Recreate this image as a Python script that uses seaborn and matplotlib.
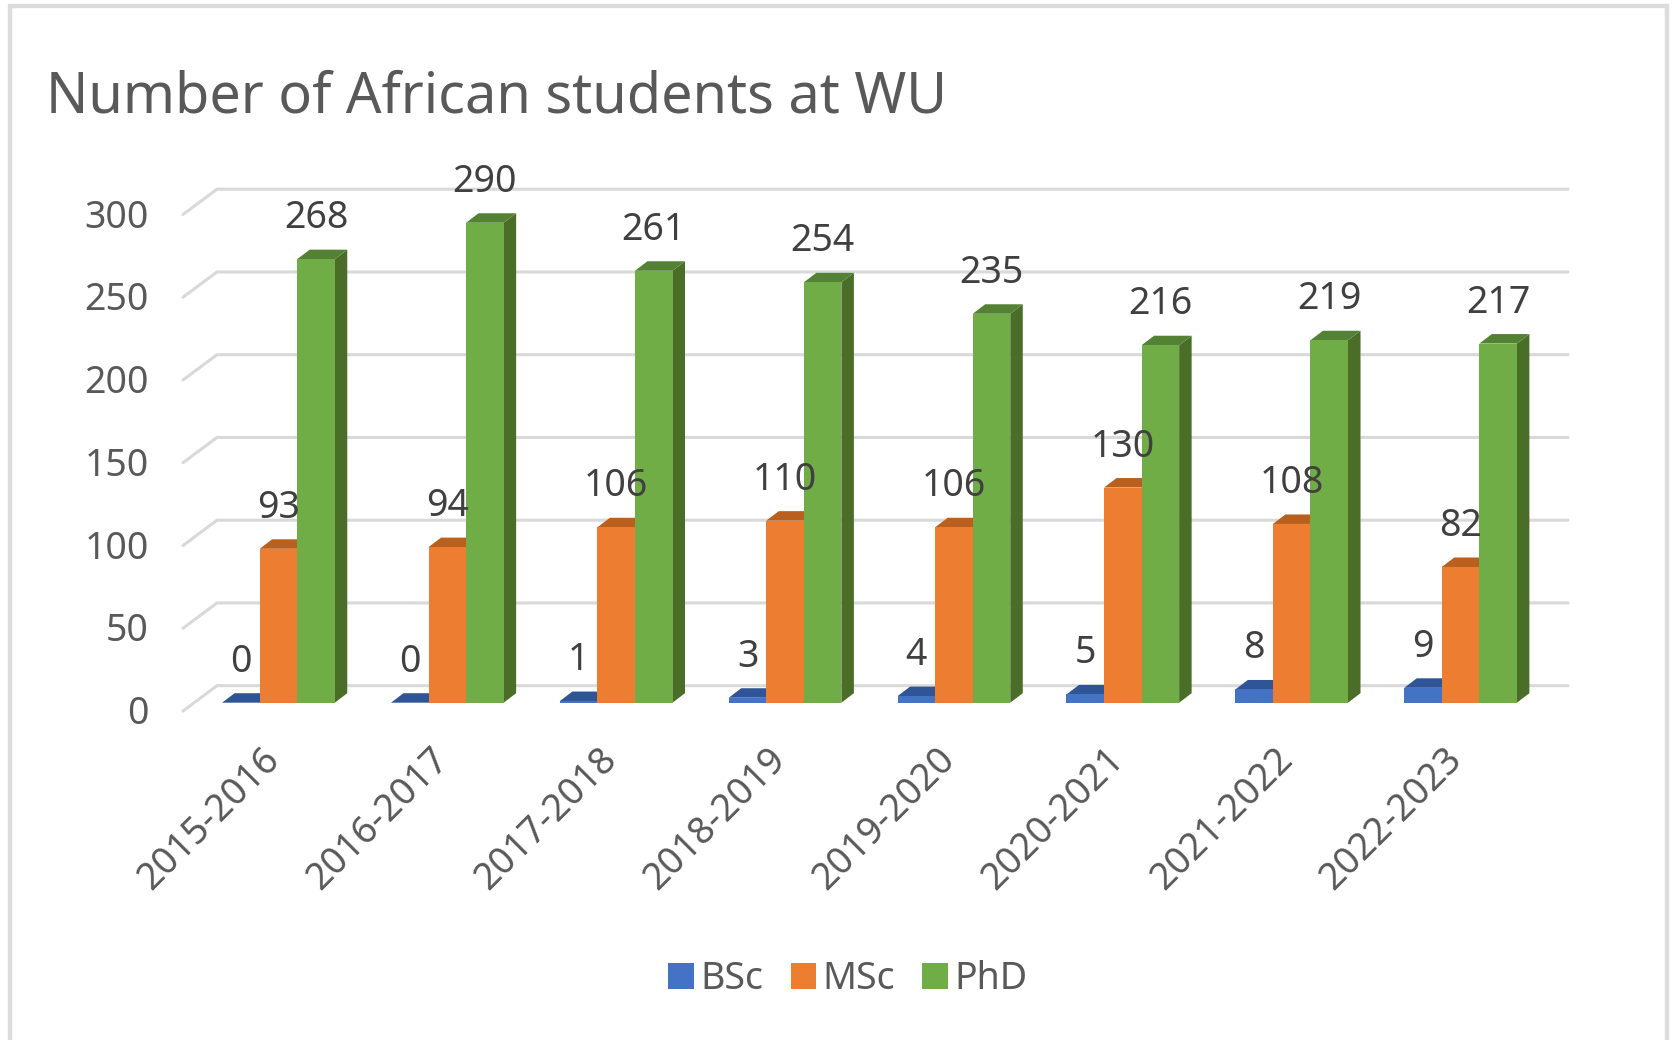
import pandas as pd
import matplotlib
matplotlib.use("Agg")
import matplotlib.pyplot as plt
import seaborn as sns
from matplotlib.patches import Polygon, Rectangle
from matplotlib.transforms import ScaledTranslation

# --------------------------- DATA ---------------------------
years = ['2015-2016', '2016-2017', '2017-2018', '2018-2019',
         '2019-2020', '2020-2021', '2021-2022', '2022-2023']
bsc = [0, 0, 1, 3, 4, 5, 8, 9]
msc = [93, 94, 106, 110, 106, 130, 108, 82]
phd = [268, 290, 261, 254, 235, 216, 219, 217]
levels = ['BSc', 'MSc', 'PhD']
y_ticks = [0, 50, 100, 150, 200, 250, 300]

# --------------------------- COLORS ---------------------------
front_colors = {'BSc': '#4472c4', 'MSc': '#ed7d31', 'PhD': '#70ad47'}
top_colors = {'BSc': '#2f5597', 'MSc': '#b9601f', 'PhD': '#548235'}
side_colors = {'BSc': '#2a4d8a', 'MSc': '#a85519', 'PhD': '#4a6e28'}
text_color = '#595959'
grid_color = '#d9d9d9'

# --------------------------- SETTINGS ---------------------------
W, H = 1673, 1040
sns.set_theme(style="white")
plt.rcParams['font.family'] = ['Noto Sans', 'DejaVu Sans']

df = pd.DataFrame({
    'year': years * 3,
    'level': [l for l in levels for _ in years],
    'count': bsc + msc + phd,
})

fig = plt.figure(figsize=(W / 100, H / 100), dpi=100)
fig.patches.append(Rectangle((10 / W, -0.02), 1657 / W, 1 - 6 / H + 0.02, transform=fig.transFigure,
                             fill=False, edgecolor='#dcdcdc', linewidth=3.2))

# axes box in pixels: the front plane of the bars
left, right, y0, y300 = 194, 1545, 702.7, 206.2
ax = fig.add_axes([left / W, 1 - y0 / H, (right - left) / W, (y0 - y300) / H])

sns.barplot(data=df, x='year', y='count', hue='level', hue_order=levels, palette=front_colors,
            width=0.667, gap=0, saturation=1, linewidth=0, ax=ax, zorder=3)
ax.set_xlim(-0.5, 7.5)
ax.set_ylim(0, 300)
sns.despine(ax=ax, left=True, bottom=True)
ax.patch.set_alpha(0)
ax.set_xlabel('')
ax.set_ylabel('')

# pixel sizes to data units
px_x = 8 / (right - left)
px_y = 300 / (y0 - y300)

# --------------------- WALL GRID ---------------------
for v in y_ticks:
    ax.plot([-0.5 - 11 * px_x, -0.5 + 23 * px_x, 7.5 + 23 * px_x],
            [v - 8.3 * px_y, v + 17 * px_y, v + 17 * px_y],
            color=grid_color, lw=2.2, clip_on=False, zorder=1, solid_joinstyle='miter')

# --------------------- 3D FACES AND LABELS ---------------------
dx, dy = 12.5 * px_x, 9.5 * px_y
z = 3
for level, container, values in zip(levels, ax.containers, [bsc, msc, phd]):
    for bar, value in zip(container, values):
        x1, x2 = bar.get_x(), bar.get_x() + bar.get_width()
        h = bar.get_height()
        ax.add_patch(Polygon([(x2, 0), (x2 + dx, dy), (x2 + dx, h + dy), (x2, h)],
                             facecolor=side_colors[level], edgecolor='none', clip_on=False, zorder=z))
        ax.add_patch(Polygon([(x1, h), (x1 + dx, h + dy), (x2 + dx, h + dy), (x2, h)],
                             facecolor=top_colors[level], edgecolor='none', clip_on=False, zorder=z))
        bar.set_zorder(z + 0.5)
        bar.set_clip_on(False)
        ax.annotate(str(value), (x1 + bar.get_width() / 2, h), xytext=(0, 41 * 0.72),
                    textcoords='offset points', ha='center', va='center',
                    fontsize=27, color='#404040', zorder=20, annotation_clip=False)
    z += 1

# --------------------- TICKS ---------------------
ax.set_yticks(y_ticks)
ax.tick_params(axis='y', length=0, pad=32.5, labelsize=27, labelcolor=text_color)
ax.tick_params(axis='x', length=0, pad=27, labelsize=27, labelcolor=text_color)
shift = ScaledTranslation(0, -7 / 100, fig.dpi_scale_trans)
for label in ax.get_yticklabels():
    label.set_transform(label.get_transform() + shift)
shift_x = ScaledTranslation(-18 / 100, 0, fig.dpi_scale_trans)
for label in ax.get_xticklabels():
    label.set_rotation(45)
    label.set_ha('right')
    label.set_rotation_mode('anchor')
    label.set_transform(label.get_transform() + shift_x)

# --------------------- TITLE AND LEGEND ---------------------
fig.text(46 / W, 1 - 98 / H, 'Number of African students at WU', fontsize=40.2, color=text_color,
         ha='left', va='center')

sns.move_legend(ax, 'center', bbox_to_anchor=(848 / W, 1 - 979 / H), bbox_transform=fig.transFigure,
                ncol=3, frameon=False, title=None, fontsize=27, labelcolor=text_color,
                handlelength=0.68, handleheight=0.68, handletextpad=0.18, columnspacing=0.72)

fig.savefig('out.png', dpi=100, facecolor='white')
